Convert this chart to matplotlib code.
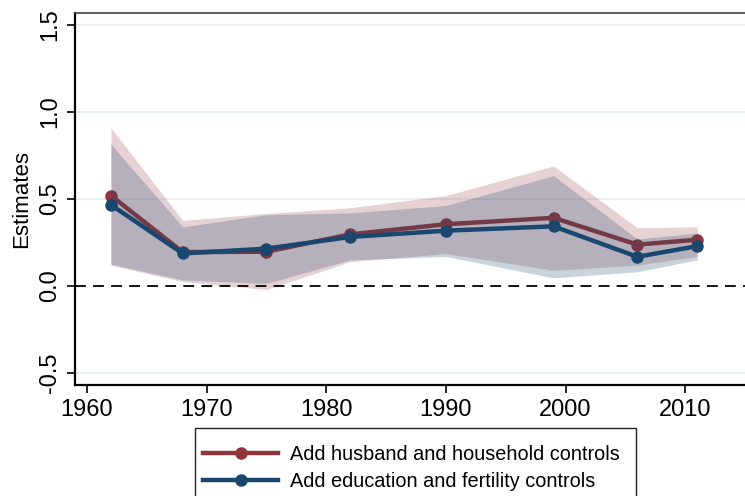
import matplotlib
matplotlib.use("Agg")
import matplotlib.pyplot as plt
from matplotlib.patches import Rectangle

# survey years and estimates
years = [1962, 1968, 1975, 1982, 1990, 1999, 2006, 2011]

husband_est = [0.52, 0.195, 0.197, 0.297, 0.355, 0.392, 0.238, 0.266]
husband_lo = [0.12, 0.025, -0.02, 0.14, 0.187, 0.09, 0.12, 0.17]
husband_hi = [0.91, 0.377, 0.417, 0.45, 0.52, 0.69, 0.335, 0.34]

educ_est = [0.467, 0.187, 0.215, 0.282, 0.318, 0.343, 0.168, 0.229]
educ_lo = [0.125, 0.035, 0.015, 0.15, 0.17, 0.047, 0.082, 0.15]
educ_hi = [0.815, 0.34, 0.41, 0.42, 0.463, 0.634, 0.27, 0.305]

labels = ["Add husband and household controls", "Add education and fertility controls"]
xticks = [1960, 1970, 1980, 1990, 2000, 2010]
yticks = [-0.5, 0.0, 0.5, 1.0, 1.5]
ytick_labels = ["-0.5", "0.0", "0.5", "1.0", "1.5"]

maroon = "#90353B"
navy = "#1A476F"

plt.rcParams["font.family"] = ["Liberation Sans", "DejaVu Sans"]

W, H = 745, 496
fig = plt.figure(figsize=(W / 100, H / 100), dpi=100)
ax = fig.add_axes([75 / W, (H - 385) / H, 1 - 75 / W, (385 - 12.7) / H])

# light grid lines at the y ticks
for yv in [-0.5, 0.5, 1.0, 1.5]:
    ax.axhline(yv, color="#E8F0F2", lw=1.3, zorder=0)

ax.fill_between(years, husband_lo, husband_hi, color=maroon, alpha=0.22, lw=0, zorder=1)
l1, = ax.plot(years, husband_est, color=maroon, lw=3.2, marker="o", ms=8, zorder=2, label=labels[0])
ax.fill_between(years, educ_lo, educ_hi, color=navy, alpha=0.24, lw=0, zorder=3)
l2, = ax.plot(years, educ_est, color=navy, lw=3.2, marker="o", ms=8, zorder=4, label=labels[1])

ax.axhline(0, color="black", lw=1.3, ls=(0, (6, 4)), zorder=5)

ax.set_xlim(1959.0, 2015.0)
ax.set_ylim(-0.569, 1.571)
ax.set_xticks(xticks)
ax.set_yticks(yticks)
ax.set_yticklabels(ytick_labels, rotation=90, va="center")
ax.tick_params(axis="both", direction="out", length=6, width=1.2, labelsize=17, pad=4)

ax.spines["right"].set_visible(False)
ax.spines["top"].set_color("#444444")
ax.spines["top"].set_linewidth(1.2)
for side in ["left", "bottom"]:
    ax.spines[side].set_linewidth(1.6)

ax.set_ylabel("Estimates", fontsize=16, labelpad=5)

# legend box below the plot (runs off the bottom edge like the original)
fig.patches.append(Rectangle((195 / W, -0.05), (636 - 195) / W, 0.05 + (H - 428) / H,
                             transform=fig.transFigure, fill=False, edgecolor="#222222", lw=1.0))
fig.legend(handles=[l1, l2], loc="upper left", bbox_to_anchor=(203 / W, 1 - 445 / H),
           fontsize=14.3, frameon=False, handlelength=3.8, handletextpad=0.6,
           labelspacing=0.4, borderaxespad=0, borderpad=0)

fig.savefig("out.png", dpi=100)
